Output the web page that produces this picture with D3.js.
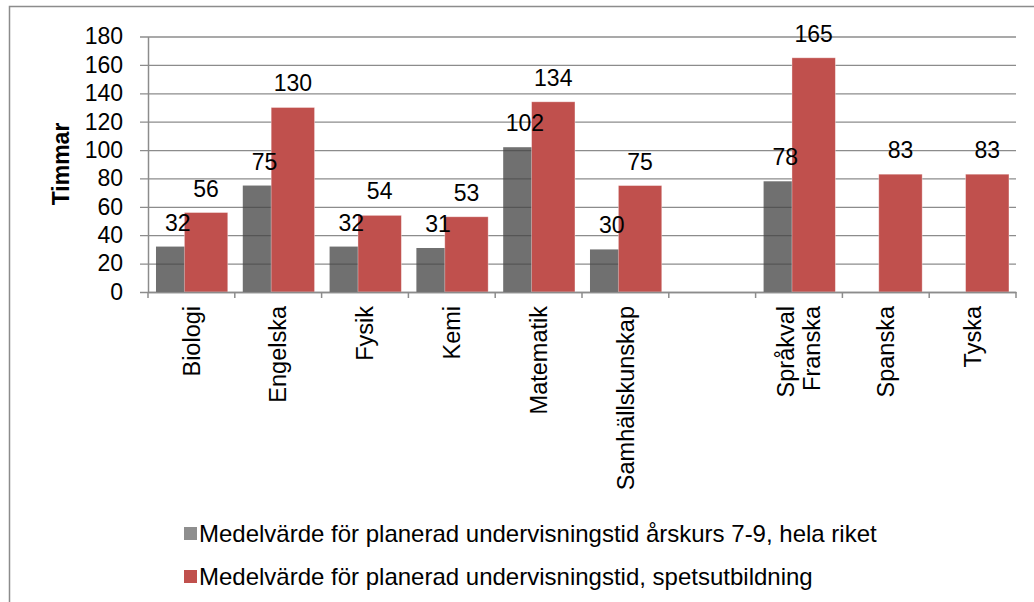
<!DOCTYPE html>
<html>
<head>
<meta charset="utf-8">
<script src="https://cdn.jsdelivr.net/npm/d3@7"></script>
<style>
  body { margin: 0; background: #fff; }
  svg { display: block; font-family: "Liberation Sans", Arial, sans-serif; }
</style>
</head>
<body>
<script>
// Chart data
var categories = ["Biologi", "Engelska", "Fysik", "Kemi", "Matematik", "Samhällskunskap", "", "Språkval\nFranska", "Spanska", "Tyska"];
var riket = [32, 75, 32, 31, 102, 30, null, 78, null, null];
var spets = [56, 130, 54, 53, 134, 75, null, 165, 83, 83];
var yTicks = [0, 20, 40, 60, 80, 100, 120, 140, 160, 180];
var legendLabels = [
    "Medelvärde för planerad undervisningstid årskurs 7-9, hela riket",
    "Medelvärde för planerad undervisningstid, spetsutbildning"
];

var W = 1034, H = 602;
var plotLeft = 148, plotRight = 1016, plotTop = 36.5, plotBottom = 292;

var svg = d3.select("body").append("svg")
    .attr("width", W)
    .attr("height", H);

// outer frame (only top and left edge are visible)
svg.append("path")
    .attr("d", "M9.5," + H + "V6.5H" + W)
    .attr("fill", "none")
    .attr("stroke", "#8c8c8c")
    .attr("stroke-width", 1.5);

var x = d3.scaleBand()
    .domain(categories)
    .range([plotLeft, plotRight]);

var y = d3.scaleLinear()
    .domain([0, 180])
    .range([plotBottom, plotTop]);

var bw = x.bandwidth();
var barW = bw * 0.5;
var grayOff = bw * 0.092,
    redOff = bw * 0.419;

// gridlines (also the left tick marks)
var grid = svg.append("g")
    .attr("transform", "translate(" + plotRight + ",0)")
    .call(d3.axisLeft(y).tickValues(yTicks).tickSize(plotRight - plotLeft + 8).tickFormat(""));
grid.select(".domain").remove();
grid.selectAll("line").attr("stroke", "#8c8c8c").attr("stroke-width", 1.3);

// series 1 (semi transparent, gridlines show through)
svg.append("g").selectAll("rect")
    .data(categories.map(function(c, i) { return { cat: c, v: riket[i] }; }).filter(function(d) { return d.v != null; }))
    .enter().append("rect")
    .attr("x", function(d) { return x(d.cat) + grayOff; })
    .attr("width", barW)
    .attr("y", function(d) { return y(d.v); })
    .attr("height", function(d) { return y(0) - y(d.v); })
    .attr("fill", "rgb(69,69,69)")
    .attr("fill-opacity", 0.77);

// series 2
svg.append("g").selectAll("rect")
    .data(categories.map(function(c, i) { return { cat: c, v: spets[i] }; }).filter(function(d) { return d.v != null; }))
    .enter().append("rect")
    .attr("x", function(d) { return x(d.cat) + redOff; })
    .attr("width", barW)
    .attr("y", function(d) { return y(d.v); })
    .attr("height", function(d) { return y(0) - y(d.v); })
    .attr("fill", "#c0504d")
    .attr("stroke", "rgba(255,255,255,0.45)")
    .attr("stroke-width", 0.8);

// y axis
var yAxis = svg.append("g")
    .attr("transform", "translate(" + plotLeft + ",0)")
    .call(d3.axisLeft(y).tickValues(yTicks).tickSize(0).tickPadding(25));
yAxis.select(".domain").attr("stroke", "#8c8c8c").attr("stroke-width", 1.5);
yAxis.selectAll("text").attr("font-size", 23).attr("fill", "#000")
    .attr("font-family", "Liberation Sans, Arial, sans-serif");

// x axis line and ticks at band boundaries
var xAxis = svg.append("g")
    .attr("transform", "translate(0," + plotBottom + ")")
    .call(d3.axisBottom(x).tickSize(0).tickFormat(""));
xAxis.select(".domain").attr("stroke", "#8c8c8c").attr("stroke-width", 1.5);
xAxis.selectAll(".bnd")
    .data(categories.map(function(c) { return x(c); }).concat([plotRight]))
    .enter().append("line")
    .attr("x1", function(d) { return d; })
    .attr("x2", function(d) { return d; })
    .attr("y1", 0)
    .attr("y2", 6)
    .attr("stroke", "#8c8c8c")
    .attr("stroke-width", 1.5);

// category labels, rotated
var catLabels = svg.append("g").selectAll("text")
    .data(categories)
    .enter().append("text")
    .attr("transform", function(d) { return "translate(" + (x(d) + bw / 2) + "," + (plotBottom + 14) + ") rotate(-90)"; })
    .attr("text-anchor", "end")
    .attr("font-size", 23.5)
    .attr("fill", "#000");

catLabels.each(function(d) {
    var lines = d.split("\n");
    var t = d3.select(this);
    lines.forEach(function(l, i) {
        t.append("tspan")
            .attr("x", 0)
            .attr("y", (i - (lines.length - 1) / 2) * 26)
            .attr("dy", "0.35em")
            .text(l);
    });
});

// value labels
function valueLabels(vals, off) {
    svg.append("g").selectAll("text")
        .data(categories.map(function(c, i) { return { cat: c, v: vals[i] }; }).filter(function(d) { return d.v != null; }))
        .enter().append("text")
        .attr("x", function(d) { return x(d.cat) + off + barW / 2; })
        .attr("y", function(d) { return y(d.v) - 16; })
        .attr("text-anchor", "middle")
        .attr("font-size", 23)
        .attr("fill", "#000")
        .text(function(d) { return d.v; });
}
valueLabels(riket, grayOff);
valueLabels(spets, redOff);

// y title
svg.append("text")
    .attr("transform", "translate(61,164) rotate(-90)")
    .attr("text-anchor", "middle")
    .attr("dy", "0.35em")
    .attr("font-size", 23)
    .attr("font-weight", "bold")
    .text("Timmar");

// legend
var legendColors = ["#8e8e8e", "#c0504d"];
var legend = svg.append("g").selectAll("g")
    .data(legendLabels)
    .enter().append("g")
    .attr("transform", function(d, i) { return "translate(184," + (533.5 + i * 43) + ")"; });
legend.append("rect")
    .attr("x", 0)
    .attr("y", -6.5)
    .attr("width", 13)
    .attr("height", 13)
    .attr("fill", function(d, i) { return legendColors[i]; });
legend.append("text")
    .attr("x", 15)
    .attr("dy", "0.35em")
    .attr("font-size", 24)
    .attr("fill", "#000")
    .text(function(d) { return d; });
</script>
</body>
</html>
